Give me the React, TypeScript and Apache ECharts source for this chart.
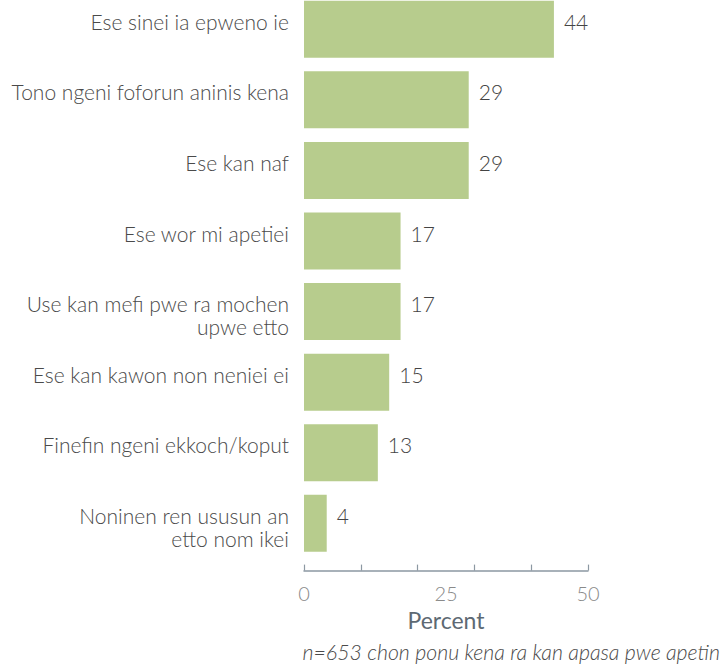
import React, { useEffect, useRef } from "react";
import * as echarts from "echarts";

const categories = [
  "Ese sinei ia epweno ie",
  "Tono ngeni foforun aninis kena",
  "Ese kan naf",
  "Ese wor mi apetiei",
  "Use kan mefi pwe ra mochen\nupwe etto",
  "Ese kan kawon non neniei ei",
  "Finefin ngeni ekkoch/koput",
  "Noninen ren ususun an\netto nom ikei",
];
const values = [44, 29, 29, 17, 17, 15, 13, 4];
const tickValues = [0, 10, 20, 30, 40, 50];
const labelValues = [0, 25, 50];
const axisName = "Percent";
const footnote = "n=653 chon ponu kena ra kan apasa pwe apetin";

export default function App() {
  const ref = useRef<HTMLDivElement>(null);
  useEffect(() => {
    const chart = echarts.init(ref.current!, undefined, { renderer: "svg" });
    const font = "'Lato Light', Lato, 'Noto Sans', sans-serif";
    chart.setOption({
      animation: false,
      textStyle: { fontFamily: font },
      grid: {
        left: 304,
        width: 284,
        top: -6,
        height: 564.6,
        containLabel: false,
        outerBoundsMode: "none",
      },
      xAxis: {
        type: "value",
        min: 0,
        max: 50,
        interval: 10,
        offset: 12,
        splitLine: { show: false },
        axisLine: { show: true, lineStyle: { color: "#8c98a2", width: 1.5 } },
        axisTick: {
          show: true,
          inside: true,
          length: 6,
          customValues: tickValues,
          lineStyle: { color: "#8c98a2", width: 1.2 },
        },
        axisLabel: {
          customValues: labelValues,
          color: "#8a8a8a",
          fontSize: 20,
          fontWeight: 300,
          fontFamily: font,
          margin: 12,
        },
        name: axisName,
        nameLocation: "middle",
        nameGap: 38,
        nameTextStyle: { color: "#5d6973", fontSize: 23, fontFamily: "Lato, sans-serif" },
      },
      yAxis: {
        type: "category",
        data: categories,
        inverse: true,
        axisLine: { show: false },
        axisTick: { show: false },
        axisLabel: {
          color: "#4a4a4a",
          fontSize: 21,
          fontWeight: 300,
          fontFamily: font,
          margin: 15,
          lineHeight: 23,
          align: "right",
          verticalAlign: "top",
          padding: [-19.5, 0, 0, 0],
        },
      },
      series: [
        {
          type: "bar",
          data: values,
          barWidth: 57,
          itemStyle: { color: "#b7cc8d" },
          label: {
            show: true,
            position: "right",
            distance: 10,
            offset: [0, -8],
            color: "#444",
            fontSize: 21,
            fontWeight: 300,
            fontFamily: font,
          },
        },
      ],
      graphic: [
        {
          type: "text",
          right: 2,
          top: 641,
          style: {
            text: footnote,
            fill: "#4a4a4a",
            fontSize: 21.3,
            fontStyle: "italic",
            fontWeight: 300,
            fontFamily: font,
          },
        },
      ],
    });
    return () => chart.dispose();
  }, []);
  return (
    <div
      ref={ref}
      style={{ position: "absolute", left: 0, top: 0, width: 722, height: 669 }}
    />
  );
}
